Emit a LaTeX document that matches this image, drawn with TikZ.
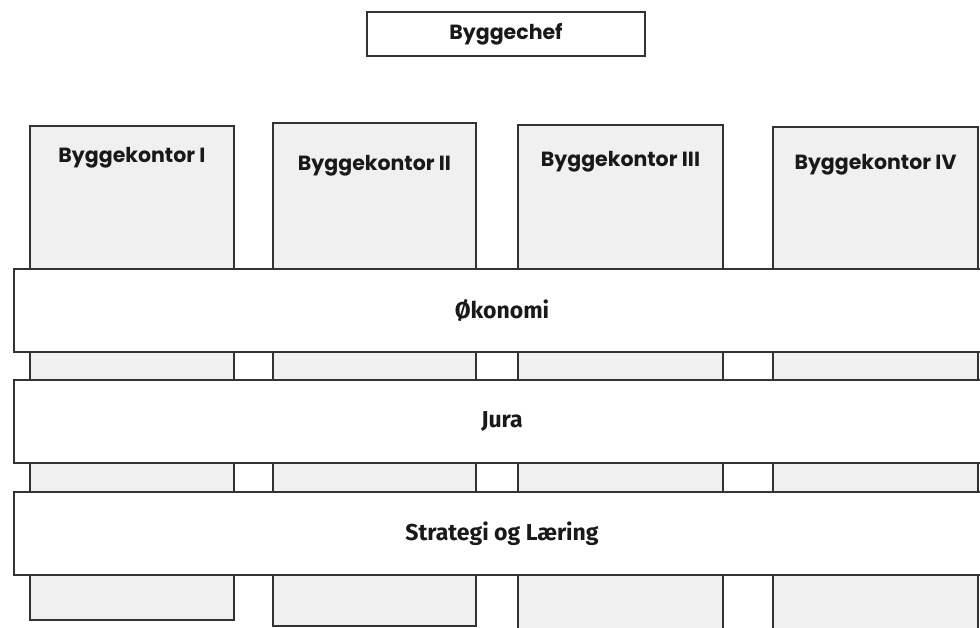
\documentclass[tikz,border=0pt]{standalone}
\usepackage{fontspec}
\newfontfamily\boxfont{Poppins}
\newfontfamily\bandfont{Fira Sans}
\begin{document}
\begin{tikzpicture}[x=1pt,y=-1pt,
  line/.style={draw=black!80,line width=1.3pt},
  chef/.style={line,fill=white,rectangle,inner sep=0pt},
  kontor/.style={line,fill=black!6,rectangle,inner sep=0pt},
  band/.style={line,fill=white,rectangle,inner sep=0pt},
  klabel/.style={font=\boxfont\bfseries\fontsize{20.5}{24}\selectfont,inner sep=0pt,text=black!90},
  blabel/.style={font=\bandfont\bfseries\fontsize{23}{27}\selectfont,inner sep=0pt,text=black!90}]
\useasboundingbox (0,0) rectangle (980,628);
% kontorer
\node[kontor,minimum width=204pt,minimum height=494pt] (k1) at (132,373) {};
\node[kontor,minimum width=203pt,minimum height=503pt] (k2) at (374.5,374.5) {};
\node[kontor,minimum width=205pt,minimum height=515pt] (k3) at (620.5,382.5) {};
\node[kontor,minimum width=205pt,minimum height=513pt] (k4) at (875.5,383.5) {};
\node[klabel] (t1) at (132,158) {Byggekontor I};
\node[klabel] (t2) at (374.5,166) {Byggekontor II};
\node[klabel] (t3) at (620.5,162) {Byggekontor III};
\node[klabel] (t4) at (875.5,165) {Byggekontor IV};
% bands
\node[band,minimum width=976pt,minimum height=83pt] (b1) at (502,310.5) {};
\node[band,minimum width=976pt,minimum height=83pt] (b2) at (502,421.5) {};
\node[band,minimum width=976pt,minimum height=83pt] (b3) at (502,533.5) {};
\node[blabel] at (b1) {Økonomi};
\node[blabel] at (b2) {Jura};
\node[blabel] at (b3) {Strategi og Læring};
% chef
\node[chef,minimum width=278pt,minimum height=44pt] (chef) at (506,34) {};
\node[klabel] at (chef) {Byggechef};
\end{tikzpicture}
\end{document}
